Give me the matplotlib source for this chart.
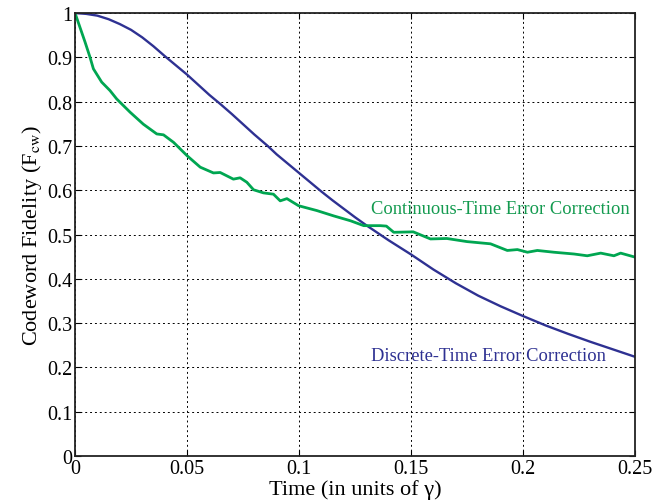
import numpy as np
import matplotlib.pyplot as plt

# -----------------------
# DATA
# -----------------------
t_discrete = [0, 0.005, 0.01, 0.015, 0.02, 0.025, 0.03, 0.035, 0.04, 0.045, 0.05,
              0.055, 0.06, 0.065, 0.07, 0.075, 0.08, 0.086, 0.09, 0.095, 0.10,
              0.105, 0.11, 0.115, 0.12, 0.125, 0.13, 0.135, 0.14, 0.145, 0.15,
              0.16, 0.17, 0.18, 0.19, 0.20, 0.21, 0.22, 0.23, 0.24, 0.25]
f_discrete = [1.0, 0.998, 0.994, 0.986, 0.975, 0.962, 0.945, 0.925, 0.903, 0.882, 0.861,
              0.838, 0.815, 0.794, 0.772, 0.749, 0.726, 0.700, 0.681, 0.660, 0.639,
              0.618, 0.597, 0.577, 0.558, 0.539, 0.521, 0.504, 0.487, 0.471, 0.455,
              0.421, 0.390, 0.362, 0.338, 0.316, 0.295, 0.276, 0.258, 0.241, 0.224]

t_cont = [0, 0.0045, 0.0067, 0.0082, 0.0119, 0.0156, 0.0186, 0.0246, 0.0305, 0.0365,
          0.0395, 0.044, 0.050, 0.0559, 0.0618, 0.0648, 0.0707, 0.0737, 0.0767, 0.0797,
          0.0841, 0.0886, 0.0916, 0.0946, 0.0998, 0.108, 0.1155, 0.123, 0.1289, 0.1363,
          0.139, 0.1423, 0.151, 0.1587, 0.166, 0.175, 0.1855, 0.193, 0.1975, 0.202,
          0.2064, 0.2138, 0.2228, 0.2287, 0.2347, 0.2406, 0.2436, 0.25]
f_cont = [1.0, 0.934, 0.900, 0.874, 0.844, 0.825, 0.806, 0.776, 0.749, 0.727,
          0.725, 0.708, 0.678, 0.652, 0.639, 0.640, 0.625, 0.628, 0.618, 0.601,
          0.594, 0.591, 0.576, 0.581, 0.565, 0.554, 0.542, 0.531, 0.520, 0.520,
          0.519, 0.505, 0.506, 0.490, 0.491, 0.484, 0.479, 0.464, 0.466, 0.460,
          0.464, 0.460, 0.456, 0.452, 0.458, 0.452, 0.458, 0.449]

xticks = [0, 0.05, 0.1, 0.15, 0.2, 0.25]
xticklabels = ["0", "0.05", "0.1", "0.15", "0.2", "0.25"]
yticks = [0, 0.1, 0.2, 0.3, 0.4, 0.5, 0.6, 0.7, 0.8, 0.9, 1.0]
yticklabels = ["0", "0.1", "0.2", "0.3", "0.4", "0.5", "0.6", "0.7", "0.8", "0.9", "1"]

BLUE = "#2e3192"
GREEN = "#00a651"

plt.rcParams["font.family"] = ["Liberation Serif", "DejaVu Serif"]
plt.rcParams["mathtext.fontset"] = "stix"

fig = plt.figure(figsize=(6.53, 5.02), dpi=100)
ax = fig.add_axes([0.1149, 0.0896, 0.8575, 0.8825])

ax.plot(t_discrete, f_discrete, color=BLUE, lw=1.7)
ax.plot(t_cont, f_cont, color=GREEN, lw=2.0)

ax.text(0.132, 0.558, "Continuous-Time Error Correction", color="#139a4f",
        fontsize=13.3, va="center", ha="left")
ax.text(0.132, 0.226, "Discrete-Time Error Correction", color=BLUE,
        fontsize=13.3, va="center", ha="left")

ax.set_xlim(0, 0.25)
ax.set_ylim(0, 1)
ax.set_xticks(xticks)
ax.set_xticklabels(xticklabels)
ax.set_yticks(yticks)
ax.set_yticklabels(yticklabels)
ax.tick_params(direction="in", top=True, right=True, labelsize=14.5,
               length=4, width=0.8, pad=2)
ax.grid(True, color="black", linestyle=(0, (2, 3)), linewidth=0.7)
for s in ax.spines.values():
    s.set_linewidth(1.3)
    s.set_color("#222222")

ax.set_xlabel("Time (in units of \u03b3)", fontsize=16, labelpad=1)
ax.set_ylabel("Codeword Fidelity (F$_{\\rm cw}$)", fontsize=16, labelpad=2)

fig.savefig("out.png", dpi=100)
